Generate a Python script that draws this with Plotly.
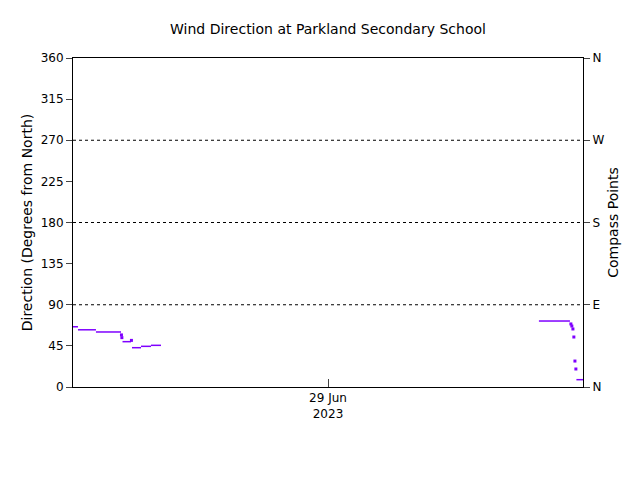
import plotly.graph_objects as go

# Step segments: start hour, end hour, direction (degrees)
seg_start = [0.0, 0.47, 2.16, 4.66, 5.55, 6.40, 7.34, 43.85, 47.38]
seg_end   = [0.47, 2.16, 4.52, 5.46, 6.40, 7.34, 8.28, 46.77, 48.0]
seg_value = [65.9, 62.6, 60.2, 49.6, 43.0, 44.5, 45.6, 72.2, 8.0]

# Isolated readings
dot_hour  = [4.56, 4.60, 5.50, 46.86, 46.95, 47.05, 47.14, 47.24, 47.33]
dot_value = [57.0, 54.0, 51.0, 69.0, 66.7, 63.5, 54.7, 28.4, 19.7]

y_ticks = [0, 45, 90, 135, 180, 225, 270, 315, 360]
compass_vals = [0, 90, 180, 270, 360]
compass_text = ["N", "E", "S", "W", "N"]
x_tick_vals = [24]
x_tick_text = ["29 Jun<br>2023"]

purple = "#7f00ff"
xs, ys = [], []
for s, e, v in zip(seg_start, seg_end, seg_value):
    xs += [s, e, None]
    ys += [v, v, None]

fig = go.Figure()
fig.add_trace(go.Scatter(x=xs, y=ys, mode="lines", line=dict(color=purple, width=1.5),
                         showlegend=False, hoverinfo="skip"))
fig.add_trace(go.Scatter(x=dot_hour, y=dot_value, mode="markers",
                         marker=dict(color=purple, size=3, symbol="square"),
                         showlegend=False))
fig.add_trace(go.Scatter(x=[None], y=[None], yaxis="y2", showlegend=False))

font = dict(family="DejaVu Sans", size=12, color="black")
fig.update_layout(
    width=640, height=480,
    paper_bgcolor="white", plot_bgcolor="white",
    margin=dict(l=65, r=65, t=50, b=101, autoexpand=False),
    font=font,
    title=dict(text="Wind Direction at Parkland Secondary School", x=0.5, xanchor="center",
               y=0.945, yanchor="bottom", font=dict(family="DejaVu Sans", size=14)),
    xaxis=dict(range=[0, 48], tickvals=x_tick_vals, ticktext=x_tick_text, ticks="inside",
               ticklen=8, showgrid=False, zeroline=False, showline=True, linecolor="black",
               mirror=True, linewidth=1, automargin=False),
    yaxis=dict(range=[0, 360], tickvals=y_ticks, ticks="outside", ticklen=6,
               showgrid=False, zeroline=False, showline=True, linecolor="black",
               linewidth=1, automargin=False,
               title=dict(text="Direction (Degrees from North)", standoff=4)),
    yaxis2=dict(range=[0, 360], overlaying="y", side="right", tickvals=compass_vals,
                ticktext=compass_text, ticks="outside", ticklen=6, showgrid=False,
                zeroline=False, showline=True, linecolor="black", automargin=False,
                title=dict(text="Compass Points", standoff=4)),
)
for v in [90, 180, 270]:
    fig.add_shape(type="line", xref="x", yref="y", x0=0, x1=48, y0=v, y1=v,
                  line=dict(color="black", width=1, dash="dot"))

fig.write_html("out.html")
